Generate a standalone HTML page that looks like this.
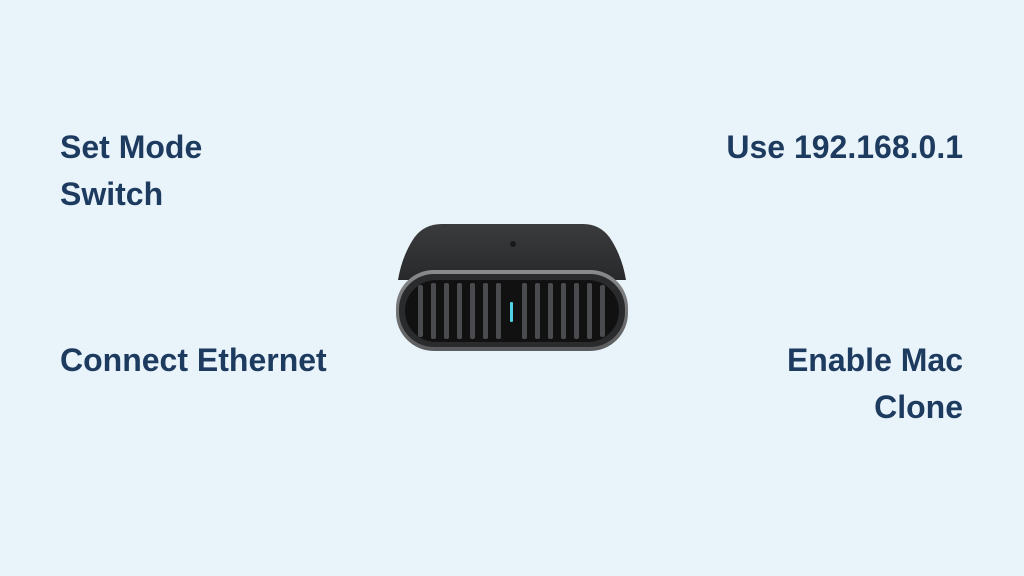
<!DOCTYPE html>
<html><head><style>
body{margin:0;width:1024px;height:576px;background:#e8f3fa;position:relative;overflow:hidden;font-family:"Liberation Sans",sans-serif;}
.t{position:absolute;font-weight:bold;font-size:32px;line-height:47px;color:#1d3a5f;}
</style></head><body>
<div class="t" style="left:60px;top:124px">Set Mode<br>Switch</div>
<div class="t" style="right:61px;top:124px;text-align:right">Use 192.168.0.1</div>
<div class="t" style="left:60px;top:337px">Connect Ethernet</div>
<div class="t" style="right:61px;top:337px;text-align:right">Enable Mac<br>Clone</div>
<svg style="position:absolute;left:0;top:0" width="1024" height="576">
<defs>
<linearGradient id="top" x1="0" y1="0" x2="0" y2="1"><stop offset="0" stop-color="#3a3b3d"/><stop offset="1" stop-color="#28292b"/></linearGradient>
<linearGradient id="rim" x1="0" y1="0" x2="0" y2="1"><stop offset="0" stop-color="#8a8b8d"/><stop offset="1" stop-color="#5a5b5d"/></linearGradient>
</defs>
<path d="M442 224 H583 Q600 224 610 238 Q622 256 626 280 L398 280 Q402 256 414 238 Q424 224 442 224Z" fill="url(#top)"/>
<rect x="396" y="270" width="232" height="81" rx="38" fill="url(#rim)"/>
<rect x="399" y="274" width="226" height="73" rx="35" fill="#2a2b2d"/>
<rect x="405" y="280" width="214" height="62" rx="31" fill="#111"/>
<g fill="#4a4b4e">
<rect x="418" y="285" width="5" height="52" rx="2"/><rect x="431" y="283" width="5" height="56" rx="2"/><rect x="444" y="283" width="5" height="56" rx="2"/><rect x="457" y="283" width="5" height="56" rx="2"/><rect x="470" y="283" width="5" height="56" rx="2"/><rect x="483" y="283" width="5" height="56" rx="2"/><rect x="496" y="283" width="5" height="56" rx="2"/><rect x="522" y="283" width="5" height="56" rx="2"/><rect x="535" y="283" width="5" height="56" rx="2"/><rect x="548" y="283" width="5" height="56" rx="2"/><rect x="561" y="283" width="5" height="56" rx="2"/><rect x="574" y="283" width="5" height="56" rx="2"/><rect x="587" y="283" width="5" height="56" rx="2"/><rect x="600" y="285" width="5" height="52" rx="2"/>
</g>
<rect x="510" y="302" width="3" height="20" rx="1" fill="#4fd2e6"/>
<circle cx="513" cy="244" r="3" fill="#1a1a1a"/>
</svg>
</body></html>
